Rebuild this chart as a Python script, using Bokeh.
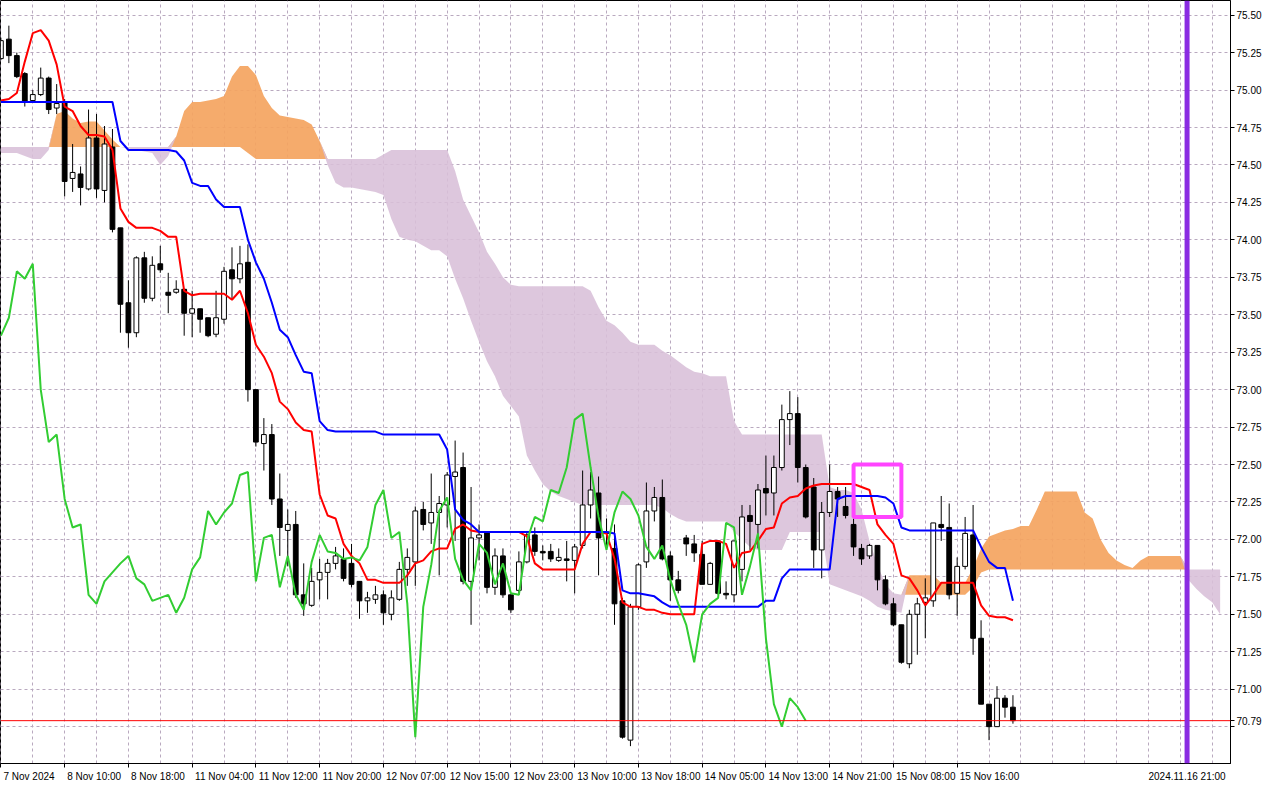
import numpy as np
from bokeh.plotting import figure
from bokeh.models import Range1d, FixedTicker, Span, PrintfTickFormatter
from bokeh.embed import file_html
from bokeh.resources import INLINE

# ---------------- data ----------------
open_ = [75.21, 75.34, 75.23, 75.11, 74.93, 74.97, 75.08, 74.88, 74.92, 74.41,
         74.44, 74.34, 74.68, 74.33, 74.62, 74.08, 73.58, 73.38, 73.88, 73.61,
         73.84, 73.65, 73.65, 73.67, 73.51, 73.54, 73.48, 73.37, 73.47, 73.80,
         73.74, 73.85, 73.00, 72.64, 72.70, 72.27, 72.06, 72.10, 71.63, 71.56,
         71.73, 71.78, 71.84, 71.87, 71.84, 71.72, 71.59, 71.60, 71.63, 71.50,
         71.60, 71.80, 71.85, 72.20, 72.11, 72.18, 72.23, 72.42, 72.48, 71.72,
         72.01, 72.05, 71.68, 71.89, 71.63, 71.66, 71.85, 72.03, 71.92, 71.92,
         71.86, 71.87, 71.86, 71.96, 72.23, 72.31, 72.04, 71.94, 71.59, 70.66,
         71.55, 71.85, 72.19, 72.28, 71.89, 71.73, 72.01, 71.97, 71.90, 71.70,
         71.99, 71.64, 71.63, 71.80, 72.16, 72.10, 72.34, 72.31, 72.48, 72.80,
         72.84, 72.48, 72.35, 71.93, 72.18, 72.32, 72.22, 72.10, 71.94, 71.89,
         71.96, 71.73, 71.57, 71.43, 71.17, 71.50, 71.58, 71.59, 72.10, 72.08,
         71.64, 71.82, 72.03, 71.34, 70.90, 70.75, 70.94, 70.88]

high = [75.35, 75.43, 75.25, 75.12, 75.00, 75.15, 75.09, 75.04, 74.94, 74.64,
        74.49, 74.87, 74.84, 74.76, 74.74, 74.08, 73.73, 73.89, 73.92, 73.89,
        73.96, 73.78, 73.73, 73.67, 73.66, 73.54, 73.48, 73.66, 73.82, 73.95,
        73.96, 73.97, 73.00, 72.81, 72.77, 72.44, 72.20, 72.19, 71.84, 71.81,
        71.87, 71.87, 71.95, 71.94, 71.97, 71.72, 71.65, 71.69, 71.66, 71.66,
        71.85, 71.94, 72.22, 72.25, 72.44, 72.29, 72.45, 72.66, 72.58, 72.35,
        72.10, 72.05, 71.94, 71.94, 71.63, 71.92, 72.05, 72.08, 71.96, 71.97,
        71.94, 71.99, 71.97, 72.46, 72.45, 72.42, 72.14, 72.10, 71.61, 71.57,
        71.84, 72.38, 72.35, 72.40, 71.92, 71.79, 72.03, 72.03, 71.99, 71.85,
        71.99, 71.72, 71.99, 72.23, 72.23, 72.37, 72.56, 72.56, 72.90, 72.99,
        72.95, 72.50, 72.41, 72.25, 72.50, 72.35, 72.35, 72.14, 71.97, 71.97,
        71.96, 71.76, 71.61, 71.43, 71.53, 71.61, 71.74, 72.11, 72.29, 72.24,
        71.88, 72.15, 72.23, 71.46, 70.90, 71.02, 70.96, 70.96]

low = [75.20, 75.18, 75.08, 74.89, 74.93, 74.96, 74.84, 74.84, 74.29, 74.32,
       74.23, 74.33, 74.28, 74.25, 74.05, 73.38, 73.28, 73.35, 73.58, 73.59,
       73.78, 73.51, 73.64, 73.36, 73.35, 73.38, 73.35, 73.35, 73.44, 73.61,
       73.71, 72.92, 72.62, 72.46, 72.23, 71.89, 71.82, 71.61, 71.49, 71.55,
       71.60, 71.60, 71.80, 71.72, 71.68, 71.47, 71.51, 71.57, 71.43, 71.46,
       71.59, 71.69, 71.69, 72.06, 71.97, 71.76, 72.08, 71.99, 71.70, 71.43,
       71.86, 71.64, 71.63, 71.61, 71.51, 71.63, 71.84, 71.89, 71.86, 71.85,
       71.85, 71.72, 71.64, 71.94, 72.14, 71.76, 71.94, 71.43, 70.67, 70.62,
       71.53, 71.81, 72.12, 71.86, 71.59, 71.64, 71.89, 71.85, 71.70, 71.70,
       71.63, 71.60, 71.58, 71.72, 71.93, 71.94, 72.16, 72.16, 72.46, 72.63,
       72.38, 72.14, 71.81, 71.74, 72.15, 72.15, 72.14, 71.89, 71.83, 71.87,
       71.66, 71.56, 71.42, 71.17, 71.14, 71.23, 71.34, 71.55, 71.99, 71.60,
       71.49, 71.80, 71.23, 70.90, 70.66, 70.75, 70.81, 70.77]

close = [75.33, 75.23, 75.09, 74.92, 74.97, 75.08, 74.87, 74.91, 74.39, 74.45,
         74.35, 74.68, 74.34, 74.64, 74.07, 73.57, 73.38, 73.88, 73.61, 73.83,
         73.80, 73.63, 73.67, 73.51, 73.54, 73.47, 73.36, 73.48, 73.79, 73.74,
         73.84, 73.00, 72.65, 72.70, 72.27, 72.08, 72.10, 71.63, 71.57, 71.72,
         71.78, 71.84, 71.89, 71.74, 71.70, 71.59, 71.61, 71.63, 71.51, 71.61,
         71.80, 71.88, 72.19, 72.10, 72.18, 72.24, 72.43, 72.45, 71.72, 72.01,
         72.03, 71.68, 71.89, 71.63, 71.53, 71.85, 72.03, 71.92, 71.91, 71.87,
         71.88, 71.86, 71.95, 72.23, 72.33, 72.01, 72.05, 71.57, 70.68, 71.55,
         71.83, 72.19, 72.28, 71.87, 71.73, 71.66, 71.97, 71.91, 71.70, 71.84,
         71.64, 71.63, 71.99, 72.15, 72.12, 72.33, 72.31, 72.48, 72.80, 72.84,
         72.48, 72.15, 71.93, 72.18, 72.32, 72.27, 72.16, 71.95, 71.87, 71.96,
         71.73, 71.57, 71.43, 71.18, 71.50, 71.57, 71.61, 72.11, 72.08, 71.63,
         71.82, 72.04, 71.34, 70.90, 70.75, 70.94, 70.88, 70.79]

tenkan = [74.93, 74.94, 74.98, 75.19, 75.38, 75.40, 75.33, 75.17, 74.89, 74.86,
          74.76, 74.70, 74.70, 74.69, 74.60, 74.21, 74.12, 74.08, 74.08, 74.08,
          74.06, 74.02, 74.02, 73.66, 73.63, 73.64, 73.64, 73.64, 73.64, 73.60,
          73.66, 73.51, 73.30, 73.22, 73.11, 72.92, 72.87, 72.78, 72.73, 72.72,
          72.30, 72.16, 72.14, 71.97, 71.89, 71.84, 71.73, 71.73, 71.71, 71.71,
          71.71, 71.76, 71.84, 71.86, 71.92, 71.94, 71.94, 72.07, 72.10, 72.06,
          72.05, 72.05, 72.05, 72.05, 72.05, 72.05, 72.02, 71.84, 71.80, 71.80,
          71.80, 71.80, 71.80, 71.97, 72.05, 72.05, 72.04, 71.87, 71.58, 71.55,
          71.55, 71.53, 71.53, 71.51, 71.50, 71.50, 71.50, 71.50, 71.97, 71.99,
          71.99, 71.97, 71.81, 71.91, 71.92, 71.99, 72.07, 72.08, 72.24, 72.28,
          72.29, 72.34, 72.36, 72.37, 72.37, 72.37, 72.37, 72.37, 72.35, 72.33,
          72.10, 72.03, 71.97, 71.76, 71.74, 71.66, 71.56, 71.63, 71.71, 71.71,
          71.71, 71.71, 71.71, 71.56, 71.49, 71.48, 71.48, 71.46]

kijun = [74.92, 74.92, 74.92, 74.92, 74.92, 74.92, 74.92, 74.92, 74.92, 74.92,
         74.92, 74.92, 74.92, 74.92, 74.92, 74.66, 74.60, 74.60, 74.60, 74.60,
         74.60, 74.60, 74.59, 74.53, 74.38, 74.36, 74.36, 74.27, 74.22, 74.22,
         74.22, 74.00, 73.85, 73.74, 73.58, 73.40, 73.35, 73.23, 73.12, 73.11,
         72.79, 72.73, 72.72, 72.72, 72.72, 72.72, 72.72, 72.72, 72.70, 72.70,
         72.70, 72.70, 72.70, 72.70, 72.70, 72.70, 72.60, 72.20, 72.13, 72.10,
         72.05, 72.05, 72.05, 72.05, 72.05, 72.05, 72.05, 72.05, 72.05, 72.05,
         72.05, 72.05, 72.05, 72.05, 72.05, 72.05, 72.05, 72.04, 71.66, 71.64,
         71.64, 71.63, 71.62, 71.58, 71.55, 71.55, 71.55, 71.55, 71.55, 71.55,
         71.55, 71.55, 71.55, 71.55, 71.55, 71.55, 71.59, 71.59, 71.74, 71.80,
         71.80, 71.80, 71.80, 71.80, 71.80, 72.27, 72.29, 72.29, 72.29, 72.29,
         72.29, 72.28, 72.24, 72.08, 72.06, 72.06, 72.06, 72.06, 72.06, 72.06,
         72.06, 72.06, 72.06, 71.95, 71.85, 71.81, 71.81, 71.59]

chikou = [73.36, 73.48, 73.79, 73.74, 73.84, 73.00, 72.65, 72.70, 72.27, 72.08,
          72.10, 71.63, 71.57, 71.72, 71.78, 71.84, 71.89, 71.74, 71.70, 71.59,
          71.61, 71.63, 71.51, 71.61, 71.80, 71.88, 72.19, 72.10, 72.18, 72.24,
          72.43, 72.45, 71.72, 72.01, 72.03, 71.68, 71.89, 71.63, 71.53, 71.85,
          72.03, 71.92, 71.91, 71.87, 71.88, 71.86, 71.95, 72.23, 72.33, 72.01,
          72.05, 71.57, 70.68, 71.55, 71.83, 72.19, 72.28, 71.87, 71.73, 71.66,
          71.97, 71.91, 71.70, 71.84, 71.64, 71.63, 71.99, 72.15, 72.12, 72.33,
          72.31, 72.48, 72.80, 72.84, 72.48, 72.15, 71.93, 72.18, 72.32, 72.27,
          72.16, 71.95, 71.87, 71.96, 71.73, 71.57, 71.43, 71.18, 71.50, 71.57,
          71.61, 72.11, 72.08, 71.63, 71.82, 72.04, 71.34, 70.90, 70.75, 70.94,
          70.88, 70.79]

senkou_a = [74.58, 74.58, 74.58, 74.56, 74.54, 74.54, 74.60, 74.84, 74.86, 74.81,
            74.78, 74.79, 74.79, 74.73, 74.67, 74.62, 74.61, 74.60, 74.59, 74.58,
            74.50, 74.56, 74.69, 74.86, 74.92, 74.92, 74.93, 74.94, 74.96, 75.09,
            75.16, 75.16, 75.10, 74.96, 74.88, 74.83, 74.82, 74.81, 74.80, 74.77,
            74.66, 74.50, 74.38, 74.35, 74.35, 74.34, 74.33, 74.32, 74.30, 74.14,
            74.02, 74.00, 73.99, 73.96, 73.93, 73.93, 73.89, 73.74, 73.61, 73.46,
            73.32, 73.19, 73.09, 72.96, 72.89, 72.82, 72.56, 72.46, 72.37, 72.32,
            72.29, 72.27, 72.25, 72.23, 72.23, 72.23, 72.23, 72.23, 72.23, 72.23,
            72.23, 72.23, 72.23, 72.21, 72.17, 72.14, 72.12, 72.12, 72.12, 72.12,
            72.12, 72.12, 72.05, 72.00, 71.95, 71.93, 71.93, 71.93, 71.93, 72.05,
            72.05, 72.05, 72.05, 72.05, 71.70, 71.68, 71.66, 71.64, 71.62, 71.59,
            71.55, 71.53, 71.52, 71.51, 71.76, 71.76, 71.76, 71.76, 71.71, 71.71,
            71.71, 71.71, 71.81, 71.94, 72.02, 72.04, 72.06, 72.07, 72.09, 72.09,
            72.20, 72.32, 72.32, 72.32, 72.32, 72.32, 72.18, 72.14, 72.00, 71.91,
            71.86, 71.83, 71.81, 71.86, 71.89, 71.89, 71.89, 71.89, 71.89, 71.73,
            71.67, 71.62, 71.58, 71.50]

senkou_b = [74.62, 74.62, 74.62, 74.62, 74.62, 74.62, 74.62, 74.62, 74.62, 74.62,
            74.62, 74.62, 74.62, 74.62, 74.62, 74.62, 74.62, 74.62, 74.62, 74.62,
            74.62, 74.62, 74.62, 74.62, 74.62, 74.62, 74.62, 74.62, 74.62, 74.62,
            74.62, 74.58, 74.54, 74.54, 74.54, 74.54, 74.54, 74.54, 74.54, 74.54,
            74.54, 74.54, 74.54, 74.54, 74.54, 74.54, 74.54, 74.54, 74.57, 74.60,
            74.60, 74.60, 74.60, 74.60, 74.60, 74.60, 74.60, 74.46, 74.27, 74.16,
            74.05, 73.92, 73.84, 73.75, 73.70, 73.69, 73.69, 73.69, 73.69, 73.69,
            73.69, 73.69, 73.69, 73.69, 73.66, 73.55, 73.46, 73.43, 73.38, 73.32,
            73.30, 73.30, 73.30, 73.26, 73.23, 73.19, 73.15, 73.12, 73.11, 73.09,
            73.09, 73.09, 72.79, 72.70, 72.70, 72.70, 72.70, 72.70, 72.70, 72.70,
            72.70, 72.70, 72.70, 72.70, 72.35, 72.33, 72.33, 72.31, 72.20, 71.99,
            71.83, 71.70, 71.64, 71.63, 71.63, 71.63, 71.63, 71.63, 71.63, 71.63,
            71.63, 71.63, 71.68, 71.78, 71.80, 71.80, 71.80, 71.80, 71.80, 71.80,
            71.80, 71.80, 71.80, 71.80, 71.80, 71.80, 71.80, 71.80, 71.80, 71.80,
            71.80, 71.80, 71.80, 71.80, 71.80, 71.80, 71.80, 71.80, 71.80, 71.80,
            71.80, 71.80, 71.80, 71.80]

time_tick_bars = [0, 8, 16, 24, 32, 40, 48, 56, 64, 72, 80, 88, 96, 104, 112, 120]
time_tick_labels = ["7 Nov 2024", "8 Nov 10:00", "8 Nov 18:00", "11 Nov 04:00",
                    "11 Nov 12:00", "11 Nov 20:00", "12 Nov 07:00", "12 Nov 15:00",
                    "12 Nov 23:00", "13 Nov 10:00", "13 Nov 18:00", "14 Nov 05:00",
                    "14 Nov 13:00", "14 Nov 21:00", "15 Nov 08:00", "15 Nov 16:00"]
price_ticks = [70.75, 71.00, 71.25, 71.50, 71.75, 72.00, 72.25, 72.50, 72.75,
               73.00, 73.25, 73.50, 73.75, 74.00, 74.25, 74.50, 74.75, 75.00,
               75.25, 75.50]

marker_bar = 148.85
marker_label = "2024.11.16 21:00"
box_bars = [107, 113]
box_prices = [72.15, 72.50]

# ---------------- figure ----------------
x_lo, x_hi = -0.05, 154.3
y_lo, y_hi = 70.504, 75.598
FONT = "Liberation Sans"
last_price = close[-1]

p = figure(width=1264, height=784,
           x_range=Range1d(x_lo, x_hi), y_range=Range1d(y_lo, y_hi),
           output_backend="svg", toolbar_location=None, y_axis_location="right",
           min_border_left=0, min_border_top=0, min_border_right=0, min_border_bottom=0,
           background_fill_color="white", border_fill_color="white",
           outline_line_color="black", outline_line_width=1)

# grid
p.xgrid.ticker = FixedTicker(ticks=list(range(0, 156, 4)))
p.ygrid.ticker = FixedTicker(ticks=price_ticks)
for g in (p.xgrid, p.ygrid):
    g.grid_line_color = "#b9a9bf"
    g.grid_line_dash = "3 3"
    g.grid_line_width = 1

# right price axis (the current price replaces the 70.75 label it covers)
p.yaxis.ticker = FixedTicker(ticks=price_ticks + [last_price])
p.yaxis.formatter = PrintfTickFormatter(format="%.2f")
p.yaxis.major_label_overrides = {price_ticks[0]: ""}
p.yaxis.major_tick_out = 4
p.yaxis.major_tick_in = 0
p.yaxis.minor_tick_out = 0
p.yaxis.minor_tick_in = 0
p.yaxis.major_label_standoff = 2
p.yaxis.major_label_text_font = FONT
p.yaxis.major_label_text_font_size = "10px"
p.yaxis.major_label_text_color = "black"
p.yaxis.axis_line_color = "black"

# bottom time axis: labels start just right of their tick
cw = {" ": 2.78, ":": 2.78, "N": 7.22, "o": 5.56, "v": 5.0}
px_per_bar = 7.95
centers = []
for b, lab in zip(time_tick_bars, time_tick_labels):
    w = sum(cw.get(ch, 5.56) for ch in lab)
    centers.append(round(b + (2.5 + w / 2) / px_per_bar, 3))
overrides = {c: lab for c, lab in zip(centers, time_tick_labels)}
overrides[marker_bar] = marker_label
p.xaxis.ticker = FixedTicker(ticks=centers + [marker_bar], minor_ticks=time_tick_bars)
p.xaxis.major_label_overrides = overrides
p.xaxis.major_tick_out = 0
p.xaxis.major_tick_in = 0
p.xaxis.minor_tick_out = 4
p.xaxis.minor_tick_in = 0
p.xaxis.major_label_standoff = 3
p.xaxis.major_label_text_font = FONT
p.xaxis.major_label_text_font_size = "10px"
p.xaxis.major_label_text_color = "black"
p.xaxis.axis_line_color = "black"

# cloud
A = np.array(senkou_a)
B = np.array(senkou_b)
xc = np.arange(len(A))
top = np.maximum(A, B)
p.varea(x=xc, y1=B, y2=top, fill_color="#F4A460", fill_alpha=0.92)
p.varea(x=xc, y1=A, y2=top, fill_color="#D8BFD8", fill_alpha=0.88)

# candles
o = np.array(open_)
h = np.array(high)
l = np.array(low)
c = np.array(close)
xb = np.arange(len(c))
bull = c >= o
bear = ~bull
p.segment(x0=xb, y0=l, x1=xb, y1=h, line_color="black", line_width=1)
p.vbar(x=xb[bull], width=0.6, bottom=o[bull], top=c[bull],
       fill_color="white", line_color="black", line_width=1)
p.vbar(x=xb[bear], width=0.6, top=o[bear], bottom=c[bear],
       fill_color="black", line_color="black", line_width=1)

# current price line
p.add_layout(Span(location=last_price, dimension="width", line_color="#ff0000", line_width=1))

# ichimoku lines
p.line(xb, tenkan, line_color="#ff0000", line_width=2)
p.line(xb, kijun, line_color="#0000ff", line_width=2)
p.line(np.arange(len(chikou)), chikou, line_color="#32cd32", line_width=2)

# vertical marker
p.add_layout(Span(location=marker_bar, dimension="height", line_color="#8a2be2", line_width=5))

# highlight box
p.quad(left=[box_bars[0]], right=[box_bars[1]], bottom=[box_prices[0]], top=[box_prices[1]],
       fill_alpha=0, line_color="#ff44ff", line_width=4)

open("out.html", "w").write(file_html(p, INLINE))
